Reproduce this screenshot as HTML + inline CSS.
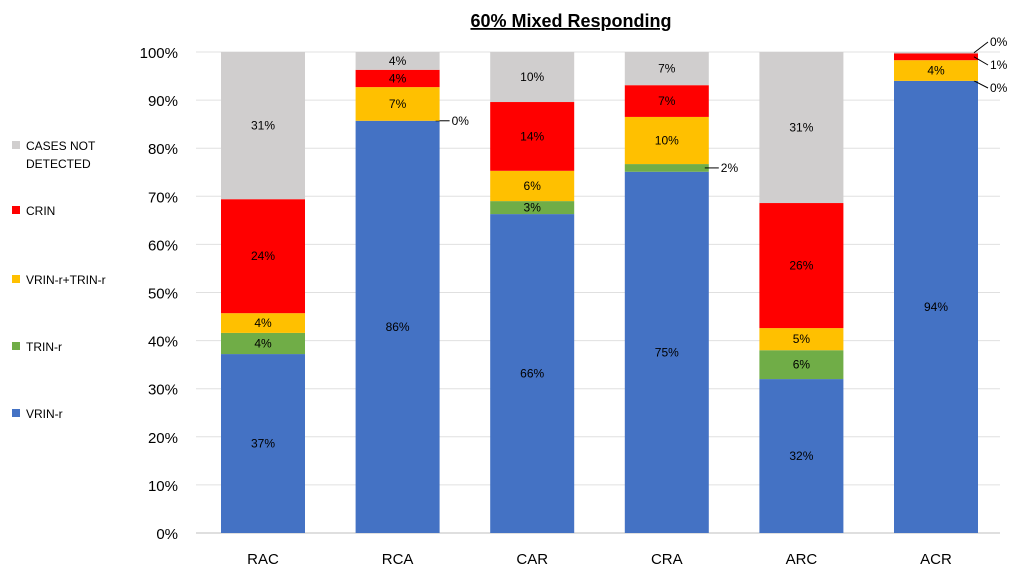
<!DOCTYPE html>
<html><head><meta charset="utf-8"><style>
body{margin:0;background:#fff;font-family:"Liberation Sans",sans-serif}
svg text{font-family:"Liberation Sans",sans-serif}
</style></head><body>
<svg id="chart" width="1024" height="576">
<text x="571" y="27" text-anchor="middle" font-size="18" font-weight="bold" text-decoration="underline" fill="#000">60% Mixed Responding</text>
<g id="grid"></g><g id="bars"></g><g id="legend"></g>
</svg>
<script>
const categories=["RAC","RCA","CAR","CRA","ARC","ACR"];
const seriesNames=["VRIN-r","TRIN-r","VRIN-r+TRIN-r","CRIN","CASES NOT DETECTED"];
const vrin=[37.2,85.7,66.3,75.1,32.0,94.0];
const trin=[4.4,0.0,2.7,1.6,6.0,0.0];
const vrinTrin=[4.1,7.0,6.3,9.8,4.6,4.3];
const crin=[23.7,3.6,14.3,6.6,26.0,1.4];
const notDetected=[30.6,3.7,10.4,6.9,31.4,0.3];
const yTicks=[0,10,20,30,40,50,60,70,80,90,100];
const series=[vrin,trin,vrinTrin,crin,notDetected];
const colors=["#4472C4","#70AD47","#FFC000","#FF0000","#D0CECE"];
const NS="http://www.w3.org/2000/svg";
const y0=533,y1=52,x0=196,step=134.6,bw=84;
const y=v=>y0-(y0-y1)*v/100;
const xc=i=>263+i*step;
function mk(t,a,p){const e=document.createElementNS(NS,t);for(const k in a)e.setAttribute(k,a[k]);p.appendChild(e);return e;}
const grid=document.getElementById('grid'),bars=document.getElementById('bars'),leg=document.getElementById('legend');
yTicks.forEach(t=>{
 const l=mk('line',{x1:x0,x2:1000,y1:y(t),y2:y(t),stroke:t===0?'#bfbfbf':'#e0e0e0','stroke-width':1},grid);
 
 
 const tx=mk('text',{x:178,y:y(t)+6,'text-anchor':'end','font-size':15,fill:'#000'},grid);
 tx.textContent=t+'%';
 
 
});
categories.forEach((c,i)=>{
 let acc=0;
 series.forEach((s,k)=>{
  const v=s[i];const top=y(acc+v),bot=y(acc);
  if(v>0){
   const r=mk('rect',{x:xc(i)-bw/2,y:top,width:bw,height:bot-top,fill:colors[k]},bars);
   
   
  }
  const txt=Math.round(v)+'%';
  const mid=(top+bot)/2;
  if(v>=2.5){
   const t=mk('text',{x:xc(i),y:mid+4,'text-anchor':'middle','font-size':12,fill:'#000'},bars);
   t.textContent=txt;
   
   
  } else {
   let lx,ly;
   if(c==="ACR"){ly=[0,92,0,69,46][k];lx=xc(i)+bw/2+12;}
   else {lx=xc(i)+bw/2+12;ly=mid+4;}
   const p=mk('path',{d:`M${xc(i)+bw/2-4},${mid} L${lx-2},${ly-4}`,stroke:'#000',fill:'none','stroke-width':1},bars);
   
   
   const t=mk('text',{x:lx,y:ly,'font-size':12,fill:'#000'},bars);
   t.textContent=txt;
   
   
  }
  acc+=v;
 });
 const xl=mk('text',{x:xc(i),y:564,'text-anchor':'middle','font-size':15,fill:'#000'},bars);
 xl.textContent=c;
 
 
});
const legY=[418,351,284,215,150];
[4,3,2,1,0].forEach(k=>{
 const r=mk('rect',{x:12,y:legY[k]-9,width:8,height:8,fill:colors[k]},leg);
 
 
 const t=mk('text',{x:26,y:legY[k],'font-size':12,fill:'#000'},leg);
 
 
 if(k===4){t.textContent='CASES NOT';const t2=mk('text',{x:26,y:legY[k]+18,'font-size':12,fill:'#000'},leg);t2.textContent='DETECTED';
  
  }
 else t.textContent=seriesNames[k];
});
</script>
</body></html>
